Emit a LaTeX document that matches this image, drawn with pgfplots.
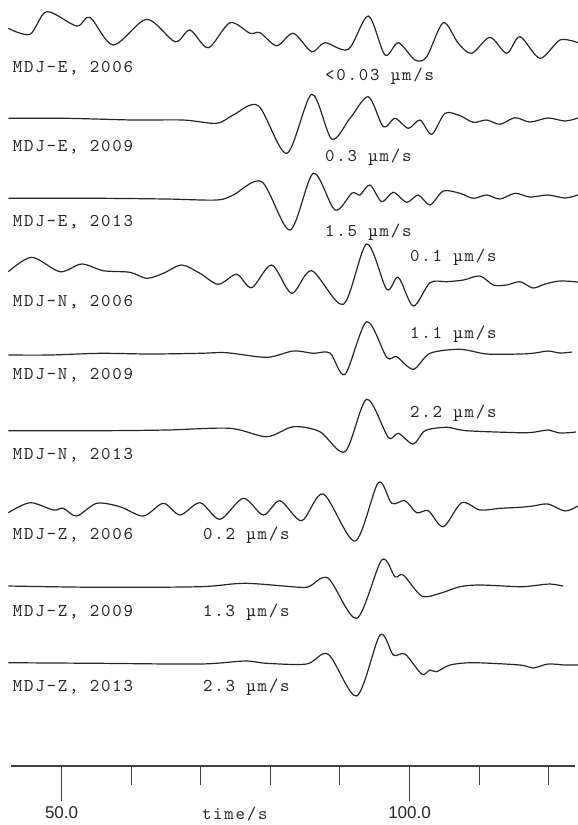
\documentclass[border=0pt]{standalone}
\usepackage{pgfplots}
\pgfplotsset{compat=1.18}
\usepackage{fontspec}
\newfontfamily\labfont[LetterSpace=10]{lmmono10-regular.otf}
\newfontfamily\tickfont{Liberation Sans}
\newcommand\lab{\labfont\fontsize{18bp}{21bp}\selectfont}
\newcommand\tickf{\tickfont\fontsize{17bp}{20bp}\selectfont}
\tikzset{tlab/.style={font=\lab, anchor=base west, inner sep=0pt, text=black!85}}
\pgfplotsset{tr/.style={smooth, draw=black!85, line width=1.2bp, mark=none, solid}}

\begin{document}
\begin{tikzpicture}
\useasboundingbox (0,0) rectangle (578bp,-825bp);
% record section: one trace per station component and year, stacked downwards
\begin{axis}[
  at={(0,0)}, anchor=north west,
  width=578bp, height=825bp, scale only axis,
  xmin=41.15, xmax=124.21, ymin=0, ymax=825, y dir=reverse,
  hide axis, clip=false,
]
% MDJ-E, 2006
\addplot[tr] coordinates {(42.34,28.3) (45.46,34.3) (47.86,11.7) (52.17,26) (54.08,17.3) (57.43,45) (62.23,19.3) (66.30,41.7) (68.45,30) (71.08,47.7) (74.20,22.7) (77.08,33.3) (78.51,32.7) (80.91,45.7) (83.30,33.3) (85.94,51.7) (87.85,42.7) (91.20,49.3) (94.08,16) (96.47,55) (98.39,42.7) (100.79,60) (102.47,56.7) (104.85,22.7) (107.01,43.3) (108.93,53.3) (111.56,37.3) (113.96,53.3) (115.87,36.7) (118.75,58.3) (121.62,40) (124.21,42.7)};
% MDJ-E, 2009
\addplot[tr] coordinates {(42.34,118.3) (50.73,118.3) (60.31,120) (67.49,120) (72.29,123.3) (74.67,115) (78.27,105.7) (82.35,153.3) (85.94,94.3) (88.82,139) (91.45,118.3) (94.08,96.7) (96.23,126.7) (97.91,118.3) (99.82,128.3) (101.50,120) (103.19,134.3) (105.10,113.3) (107.25,115.7) (109.16,122.3) (111.09,120) (113.00,124.3) (115.16,117.7) (117.31,122) (119.90,118) (122.34,121) (124.21,118)};
% MDJ-E, 2013
\addplot[tr] coordinates {(42.34,198.3) (55.52,198.3) (65.10,199) (72.29,200) (74.67,195) (78.76,181.7) (82.82,230) (86.17,173.3) (89.29,210) (91.73,193) (92.88,195) (94.32,185) (96.00,201.7) (97.67,192.3) (99.59,202.3) (101.26,195) (102.94,205) (104.85,191) (107.25,193.3) (109.16,198.3) (111.09,195) (113.00,199) (115.16,193.3) (117.31,197) (119.90,195) (122.34,198) (124.21,195)};
% MDJ-N, 2006
\addplot[tr] coordinates {(42.34,271.7) (45.71,257.3) (49.77,271.7) (52.89,264) (55.99,270.7) (59.83,272.3) (62.23,278.3) (64.62,273.3) (67.26,265) (69.89,273.3) (72.52,284.3) (75.16,274.3) (77.32,287.7) (80.19,265) (83.07,293.3) (85.94,270.7) (90.48,304.3) (93.84,244) (96.72,289.3) (98.39,277.3) (100.54,306) (102.94,282.7) (105.34,281.7) (107.73,280) (110.13,276) (112.04,285) (113.96,285) (115.87,281.7) (117.74,288) (119.47,284) (121.62,281) (124.21,282)};
% MDJ-N, 2009
\addplot[tr] coordinates {(42.34,355) (48.34,355) (55.52,353.3) (62.71,354) (69.89,353.3) (73.73,352.7) (79.47,357.3) (83.30,351) (86.17,353.3) (88.57,353) (90.73,374.3) (93.84,321.7) (96.72,357.3) (98.16,356.7) (100.54,369.3) (102.94,353.3) (107.25,349.3) (111.09,354) (115.87,354) (118.03,353) (119.90,351) (121.62,353) (123.35,352)};
% MDJ-N, 2013
\addplot[tr] coordinates {(42.34,430.7) (55.52,430.7) (65.10,430) (74.20,428.3) (79.47,436.7) (83.30,426.7) (87.13,431.7) (90.73,451.7) (93.84,399.3) (96.95,437.3) (98.39,433.3) (100.54,444) (102.22,430.7) (105.34,427.3) (108.21,430.7) (115.87,432.7) (118.03,432) (119.90,430) (121.62,433) (123.92,432)};
% MDJ-Z, 2006
\addplot[tr] coordinates {(42.34,512.7) (45.46,502.7) (48.81,510) (50.25,508.3) (52.17,516) (55.05,503.3) (58.39,506.7) (61.74,516) (64.62,503.3) (67.02,515) (69.89,502.7) (72.76,519.3) (76.11,498.3) (78.99,515) (81.39,500.7) (84.50,520.7) (87.61,494) (92.16,541) (95.51,482.7) (97.44,503.3) (99.35,500.7) (101.03,512.7) (102.70,510.7) (104.85,526.7) (107.50,502.7) (110.13,510) (113.00,508.3) (115.87,507.3) (117.74,506) (119.90,504) (122.34,511) (124.21,506)};
% MDJ-Z, 2009
\addplot[tr] coordinates {(42.34,586) (55.52,587.3) (69.89,586.7) (76.36,583.3) (84.26,587.3) (85.70,586) (88.33,578.3) (92.41,618.3) (96.00,560) (97.91,576.7) (99.11,575) (101.75,596) (104.38,593.3) (107.25,586.7) (110.13,585) (115.87,586.7) (118.03,585.5) (120.19,584) (122.05,586)};
% MDJ-Z, 2013
\addplot[tr] coordinates {(42.34,662.7) (55.52,663.3) (69.89,664) (76.36,661) (79.47,663.3) (85.22,664) (88.33,654.3) (92.41,696) (95.76,635) (97.67,655) (99.35,654) (101.75,674) (102.94,670) (103.90,671.7) (105.82,665) (109.16,662.7) (115.87,665) (117.74,668) (119.90,664) (122.34,665) (124.21,665)};

% trace names
\node[tlab] at (axis cs:42.97,72.5)  {MDJ-E, 2006};
\node[tlab] at (axis cs:42.97,151) {MDJ-E, 2009};
\node[tlab] at (axis cs:42.97,226) {MDJ-E, 2013};
\node[tlab] at (axis cs:42.97,306) {MDJ-N, 2006};
\node[tlab] at (axis cs:42.97,379) {MDJ-N, 2009};
\node[tlab] at (axis cs:42.97,459) {MDJ-N, 2013};
\node[tlab] at (axis cs:42.97,539) {MDJ-Z, 2006};
\node[tlab] at (axis cs:42.97,616) {MDJ-Z, 2009};
\node[tlab] at (axis cs:42.97,691) {MDJ-Z, 2013};
% peak amplitudes
\node[tlab] at (axis cs:87.85,80)  {<0.03 µm/s};
\node[tlab] at (axis cs:87.85,161) {0.3 µm/s};
\node[tlab] at (axis cs:87.85,236) {1.5 µm/s};
\node[tlab] at (axis cs:100.07,261) {0.1 µm/s};
\node[tlab] at (axis cs:100.07,338) {1.1 µm/s};
\node[tlab] at (axis cs:100.07,417) {2.2 µm/s};
\node[tlab] at (axis cs:70.32,539) {0.2 µm/s};
\node[tlab] at (axis cs:70.32,616) {1.3 µm/s};
\node[tlab] at (axis cs:70.32,691) {2.3 µm/s};
\node[font=\lab, anchor=base, inner sep=0pt, text=black!85] at (axis cs:74.9,819) {time/s};
\end{axis}

% time axis
\begin{axis}[
  at={(11bp,-766bp)}, anchor=south west,
  width=564bp, height=1bp, scale only axis,
  xmin=42.73, xmax=123.78, ymin=0, ymax=1,
  hide y axis, axis x line*=bottom,
  x axis line style={-, black!75, line width=1.1bp},
  xtick={50,100}, xticklabels={\mbox{\tickf 50.0},\mbox{\tickf 100.0}},
  minor xtick={60,70,80,90,110,120},
  tick align=outside, tick style={black!75, line width=1.1bp},
  major tick length=35bp, minor tick length=19bp,
  xticklabel style={text=black!85, yshift=-2bp},
]
\addplot[draw=none] coordinates {(50,0) (100,0)};
\end{axis}
\end{tikzpicture}
\end{document}
